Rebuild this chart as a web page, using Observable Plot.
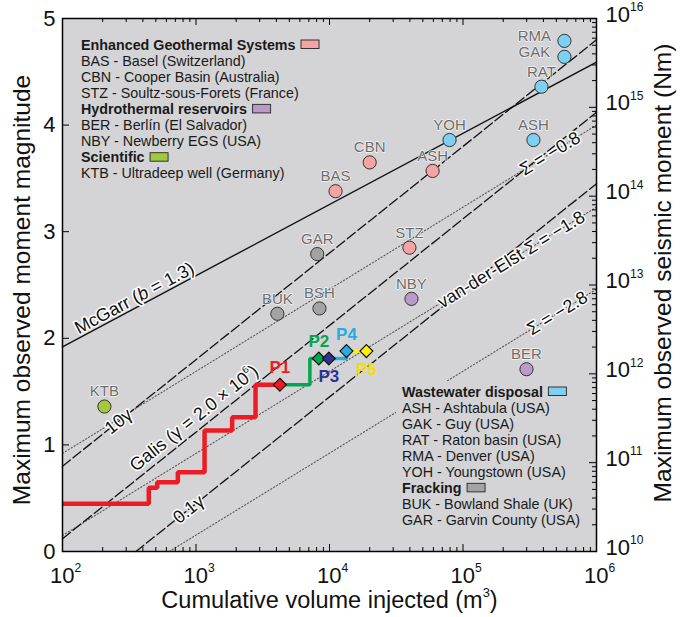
<!DOCTYPE html>
<html><head><meta charset="utf-8">
<script src="https://cdn.jsdelivr.net/npm/d3@7"></script>
<script src="https://cdn.jsdelivr.net/npm/@observablehq/plot@0.6"></script>
<style>body{margin:0;background:#fff} svg{display:block}</style>
</head><body><div id="chart"></div>
<script>
// ---------------- data ----------------
const siteCodes     = ["RMA","GAK","RAT","YOH","ASH","ASH","CBN","BAS","STZ","GAR","NBY","BUK","BSH","KTB","BER"];
const siteVolume    = [5.75e5,5.75e5,3.87e5,7.93e4,3.37e5,5.92e4,2.0e4,1.11e4,3.97e4,8.09e3,4.11e4,4.07e3,8.41e3,206,2.99e5];
const siteMagnitude = [4.79,4.64,4.36,3.86,3.86,3.57,3.65,3.38,2.85,2.79,2.37,2.23,2.28,1.36,1.71];
const siteGroup     = ["Wastewater","Wastewater","Wastewater","Wastewater","Wastewater","EGS","EGS","EGS","EGS","Fracking","Hydrothermal","Fracking","Fracking","Scientific","Hydrothermal"];

const stageNames     = ["P1","P2","P3","P4","P5"];
const stageVolume    = [4250, 8320, 9890, 13400, 18900];
const stageMagnitude = [1.565, 1.81, 1.81, 1.88, 1.88];

// cumulative-volume / max-magnitude history (step path), split by stage colour
const redStepV   = [100, 443, 443, 512, 512, 731, 731, 1159, 1159, 1866, 1866, 2793, 2793, 4250];
const redStepM   = [0.447, 0.447, 0.598, 0.598, 0.650, 0.650, 0.744, 0.744, 1.135, 1.135, 1.260, 1.260, 1.565, 1.565];
const greenStepV = [4250, 7130, 7130, 8320];
const greenStepM = [1.565, 1.565, 1.81, 1.81];
const navyStepV  = [8320, 9890];
const navyStepM  = [1.81, 1.81];
const blueStepV  = [9890, 13400, 13400];
const blueStepM  = [1.81, 1.81, 1.88];
const yellowStepV = [13400, 18900];
const yellowStepM = [1.88, 1.88];

// reference relations (end points)
const lineNames  = ["McGarr","10g","Galis","0.1g","S08","S18","S28"];
const lineStartV = [100, 100, 100, 355, 100, 100, 631];
const lineStartM = [1.92, 0.80, 0.12, 0, 0.92, 0.15, 0];
const lineEndV   = [1e6, 1e6, 1e6, 1e6, 1e6, 1e6, 1e6];
const lineEndM   = [4.59, 4.80, 4.12, 3.45, 4.00, 3.23, 2.46];
const lineLabels = ["McGarr (*b* = 1.3)", "10γ", "Galis (γ = 2.0 × 10^{6})", "0.1γ", "Σ = −0.8", "van-der-Elst Σ = −1.8", "Σ = −2.8"];
const lineLabelV = [372, 263, 1100, 880, 4.5e5, 2.3e5, 5.1e5];

const xTickValues = [1e2, 1e3, 1e4, 1e5, 1e6];
const xTickLabels = ["10^{2}", "10^{3}", "10^{4}", "10^{5}", "10^{6}"];
const yTickValues = [0, 1, 2, 3, 4, 5];
const yTickLabels = ["0", "1", "2", "3", "4", "5"];
const momentExponents = [10, 11, 12, 13, 14, 15, 16];
const momentLabels = ["10^{10}","10^{11}","10^{12}","10^{13}","10^{14}","10^{15}","10^{16}"];

const legendTopLines = ["Enhanced Geothermal Systems","BAS - Basel (Switzerland)","CBN - Cooper Basin (Australia)","STZ - Soultz-sous-Forets (France)","Hydrothermal reservoirs","BER - Berlín (El Salvador)","NBY - Newberry EGS (USA)","Scientific","KTB - Ultradeep well (Germany)"];
const legendTopGroups = ["EGS",null,null,null,"Hydrothermal",null,null,"Scientific",null];
const legendBottomLines = ["Wastewater disposal","ASH - Ashtabula (USA)","GAK - Guy (USA)","RAT - Raton basin (USA)","RMA - Denver (USA)","YOH - Youngstown (USA)","Fracking","BUK - Bowland Shale (UK)","GAR - Garvin County (USA)"];
const legendBottomGroups = ["Wastewater",null,null,null,null,null,"Fracking",null,null];

// ---------------- styles / layout ----------------
const groupColor = {EGS:"#f6a3a3", Hydrothermal:"#b99ac9", Scientific:"#a2c93e", Wastewater:"#7ed0f2", Fracking:"#a3a3a3"};
const stageColor = ["#ed1c24","#00a651","#2e3192","#29abe2","#fff200"];
const stageTextColor = ["#ed1c24","#00a651","#2e3192","#29abe2","#f2de00"];
const W=681, H=617, ML=62, MR=85, MT=18, MB=66;
const pxDec = (W-ML-MR)/4, pxMag = (H-MT-MB)/5;
const xFromPx = px => 10 ** (2 + (px-ML)/pxDec);
const yFromPx = py => (H-MB-py)/pxMag;
const FONT = "'Liberation Sans', Arial, Helvetica, sans-serif";
const BG = "#d4d4d6";

const sites = siteCodes.map((c,i)=>({code:c, V:siteVolume[i], M:siteMagnitude[i], group:siteGroup[i]}));
const stages = stageNames.map((n,i)=>({name:n, V:stageVolume[i], M:stageMagnitude[i], i}));
const toPts = (V,M) => V.map((v,i)=>({V:v, M:M[i]}));
const refLines = lineNames.flatMap((n,i)=>[{n, V:lineStartV[i], M:lineStartM[i]}, {n, V:lineEndV[i], M:lineEndM[i]}]);
const kindOf = n => n==="McGarr" ? "solid" : n.startsWith("S") ? "dotted" : "dashed";

// ticks
const xMinor = []; for (let k=2;k<6;k++) for (let j=2;j<10;j++) xMinor.push(j*10**k);
const mMinor = []; for (let k=10;k<16;k++) for (let j=2;j<10;j++) mMinor.push((k-10+Math.log10(j))*5/6);
const mMajor = momentExponents.map(k=>(k-10)*5/6);
const LMaj=7, LMin=4;

const marks = [
  Plot.frame({fill: BG}),
  // reference lines
  Plot.line(refLines.filter(d=>kindOf(d.n)==="dotted"), {x:"V", y:"M", z:"n", stroke:"#555", strokeWidth:1.1, strokeDasharray:"1.2,2.2"}),
  Plot.line(refLines.filter(d=>kindOf(d.n)==="dashed"), {x:"V", y:"M", z:"n", stroke:"#111", strokeWidth:1.3, strokeDasharray:"10,3.5"}),
  Plot.line(refLines.filter(d=>kindOf(d.n)==="solid"), {x:"V", y:"M", z:"n", stroke:"#111", strokeWidth:1.4}),
  // legend background (hides lines under the lower legend)
  Plot.rect([0], {x1:xFromPx(396), x2:xFromPx(592), y1:yFromPx(381), y2:yFromPx(529), fill:BG}),
];

// line labels along lines
const perpOffset = [9, 0, 12, 0, 0, 0, 0];
lineNames.forEach((n,i)=>{
  const l0=Math.log10(lineStartV[i]), l1=Math.log10(lineEndV[i]);
  const lv=Math.log10(lineLabelV[i]);
  const m = lineStartM[i] + (lineEndM[i]-lineStartM[i])*(lv-l0)/(l1-l0);
  const th = Math.atan(((lineEndM[i]-lineStartM[i])*pxMag)/((l1-l0)*pxDec));
  const d = perpOffset[i];
  marks.push(Plot.text([0], {x:lineLabelV[i], y:m, text:()=>lineLabels[i], rotate:-th*180/Math.PI,
    dx:-d*Math.sin(th), dy:-d*Math.cos(th), fontSize:18, fill:"#111", stroke:"white", strokeWidth:3, textAnchor:"middle", lineAnchor:"middle"}));
});

marks.push(
  // step path
  Plot.line(toPts(redStepV, redStepM), {x:"V", y:"M", stroke:stageColor[0], strokeWidth:4.5, strokeLinejoin:"miter", strokeLinecap:"butt"}),
  Plot.line(toPts(greenStepV, greenStepM), {x:"V", y:"M", stroke:stageColor[1], strokeWidth:3.5, strokeLinejoin:"miter"}),
  Plot.line(toPts(navyStepV, navyStepM), {x:"V", y:"M", stroke:stageColor[2], strokeWidth:3.5}),
  Plot.line(toPts(blueStepV, blueStepM), {x:"V", y:"M", stroke:stageColor[3], strokeWidth:3.5, strokeLinejoin:"miter"}),
  Plot.line(toPts(yellowStepV, yellowStepM), {x:"V", y:"M", stroke:stageColor[4], strokeWidth:3.5}),
  // site points
  Plot.dot(sites, {x:"V", y:"M", r:6.6, fill:d=>groupColor[d.group], stroke:"#333", strokeWidth:1}),
  Plot.text(sites.filter(d=>d.code!=="RMA"&&d.code!=="GAK"), {x:"V", y:"M", text:"code", dy:-15, fontSize:15, fill:"#6a6a6a", stroke:"white", strokeWidth:1.3, strokeOpacity:0.85}),
  Plot.text(sites.filter(d=>d.code==="RMA"||d.code==="GAK"), {x:"V", y:"M", text:"code", dx:-30, dy:-5, fontSize:15, fill:"#6a6a6a", stroke:"white", strokeWidth:1.3, strokeOpacity:0.85}),
  // stage diamonds
  Plot.dot(stages, {x:"V", y:"M", symbol:"diamond2", r:5.8, fill:d=>stageColor[d.i], stroke:"#111", strokeWidth:1.2}),
  Plot.text(stages.filter(d=>[0,1,3].includes(d.i)), {x:"V", y:"M", text:"name", dy:-17, fontSize:17, fontWeight:"bold", fill:d=>stageTextColor[d.i]}),
  Plot.text(stages.filter(d=>[2,4].includes(d.i)), {x:"V", y:"M", text:"name", dy:18, fontSize:17, fontWeight:"bold", fill:d=>stageTextColor[d.i]}),
  // ticks
  Plot.ruleX(xTickValues, {x:d=>d, y1:0, y2:LMaj/pxMag, stroke:"#000", strokeWidth:1}),
  Plot.ruleX(xMinor, {x:d=>d, y1:0, y2:LMin/pxMag, stroke:"#000", strokeWidth:1}),
  Plot.ruleX(xTickValues, {x:d=>d, y1:5, y2:5-LMaj/pxMag, stroke:"#000", strokeWidth:1}),
  Plot.ruleX(xMinor, {x:d=>d, y1:5, y2:5-LMin/pxMag, stroke:"#000", strokeWidth:1}),
  Plot.ruleY(yTickValues, {y:d=>d, x1:100, x2:100*10**(LMaj/pxDec), stroke:"#000", strokeWidth:1}),
  Plot.ruleY(mMajor, {y:d=>d, x1:1e6, x2:1e6/10**(LMaj/pxDec), stroke:"#000", strokeWidth:1}),
  Plot.ruleY(mMinor, {y:d=>d, x1:1e6, x2:1e6/10**(LMin/pxDec), stroke:"#000", strokeWidth:1}),
  Plot.frame({stroke:"#000", strokeWidth:1.5}),
  // tick labels
  Plot.text(xTickValues, {x:d=>d, y:0, text:(d,i)=>xTickLabels[i], dy:24, dx:3, fontSize:22, fill:"#111"}),
  Plot.text(yTickValues, {x:100, y:d=>d, text:(d,i)=>yTickLabels[i], dx:-7, textAnchor:"end", fontSize:22, fill:"#111"}),
  Plot.text(mMajor, {x:1e6, y:d=>d, text:(d,i)=>momentLabels[i], dx:9, dy:-4, textAnchor:"start", fontSize:22, fill:"#111"}),
  // axis titles
  Plot.text(["Cumulative volume injected (m^{3})"], {frameAnchor:"bottom", textAnchor:"middle", dy:56.5, fontSize:23.5, fill:"#111"}),
  Plot.text(["Maximum observed moment magnitude"], {frameAnchor:"left", textAnchor:"middle", dx:-40, dy:5, rotate:-90, fontSize:24.5, fill:"#111"}),
  Plot.text(["Maximum observed seismic moment (Nm)"], {frameAnchor:"right", textAnchor:"middle", dx:67, dy:-12, rotate:-90, fontSize:24.5, fill:"#111"})
);

// legends
const ctx = document.createElement("canvas").getContext("2d");
function addLegend(lines, groups, x0, y0, step) {
  lines.forEach((t,i)=>{
    const bold = groups[i] != null;
    const y = y0 + i*step;
    marks.push(Plot.text([t], {frameAnchor:"top-left", dx:x0-ML, dy:y-MT, text:d=>d, textAnchor:"start", lineAnchor:"middle",
      fontSize:14.3, fontWeight: bold ? "bold" : "normal", fill:"#1a1a1a"}));
    if (bold) {
      ctx.font = `bold 14.3px ${FONT}`;
      const w = ctx.measureText(t).width;
      const sx = x0 + w + 6;
      marks.push(Plot.rect([0], {x1:xFromPx(sx), x2:xFromPx(sx+18), y1:yFromPx(y-4.5), y2:yFromPx(y+4), fill:groupColor[groups[i]], stroke:"#333", strokeWidth:1}));
    }
  });
}
addLegend(legendTopLines, legendTopGroups, 80.5, 44.5, 16.1);
addLegend(legendBottomLines, legendBottomGroups, 401.5, 391.5, 16.06);

const svg = Plot.plot({
  width:W, height:H, marginLeft:ML, marginRight:MR, marginTop:MT, marginBottom:MB,
  style:{fontFamily:FONT, background:"white", overflow:"visible"},
  x:{type:"log", domain:[100,1e6], axis:null},
  y:{domain:[0,5], axis:null},
  marks
});

// rich text: ^{sup} and *italic*
const NS = "http://www.w3.org/2000/svg";
svg.querySelectorAll("text").forEach(t=>{
  const s = t.textContent;
  if (!/\^\{|\*/.test(s)) return;
  t.textContent = "";
  const re = /\^\{([^}]*)\}|\*([^*]*)\*/g;
  let last = 0, m, restore = null;
  const add = (txt, attrs) => { const ts = document.createElementNS(NS,"tspan"); for (const k in attrs) ts.setAttribute(k, attrs[k]); ts.textContent = txt; t.appendChild(ts); };
  while ((m = re.exec(s))) {
    if (m.index > last) { add(s.slice(last, m.index), restore ? {dy:restore} : {}); restore = null; }
    if (m[1] !== undefined) { add(m[1], {"font-size":"55%", dy:"-0.85em"}); restore = "0.47em"; }
    else { add(m[2], restore ? {"font-style":"italic", dy:restore} : {"font-style":"italic"}); restore = null; }
    last = re.lastIndex;
  }
  if (last < s.length) add(s.slice(last), restore ? {dy:restore} : {});
});
document.getElementById("chart").appendChild(svg);
</script>
</body></html>
